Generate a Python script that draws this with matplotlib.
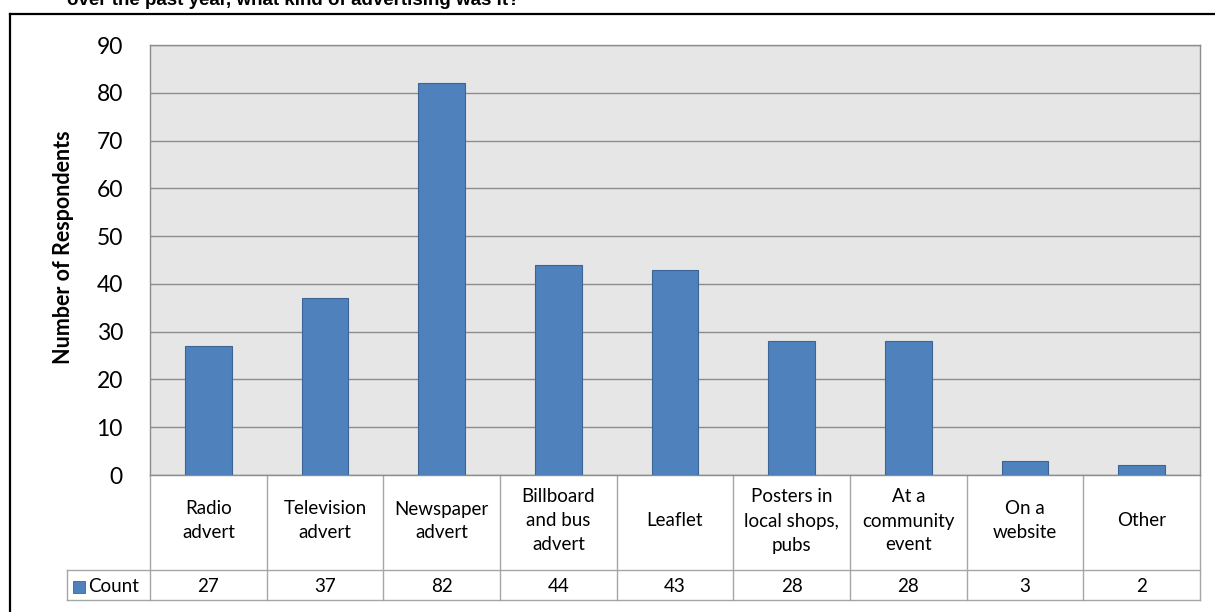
import matplotlib
matplotlib.use("Agg")
import matplotlib.pyplot as plt
from matplotlib.patches import Rectangle
from matplotlib.lines import Line2D
import matplotlib.transforms as mtransforms

categories = ["Radio\nadvert", "Television\nadvert", "Newspaper\nadvert",
              "Billboard\nand bus\nadvert", "Leaflet", "Posters in\nlocal shops,\npubs",
              "At a\ncommunity\nevent", "On a\nwebsite", "Other"]
counts = [27, 37, 82, 44, 43, 28, 28, 3, 2]
yticks = [0, 10, 20, 30, 40, 50, 60, 70, 80, 90]
series_name = "Count"
title = "over the past year, what kind of advertising was it?"
ylabel = "Number of Respondents"

W, H = 1215, 612
BAR = "#4f81bd"
BAR_EDGE = "#3b6597"
GRID = "#8c8c8c"
TABLE = "#a6a6a6"
FONT = "Lato"

fig = plt.figure(figsize=(W / 100, H / 100), dpi=100)

def fx(px):
    return px / W

def fy(py):
    return 1 - py / H

# plot area in pixel terms
L, R, T, B = 150, 1200, 45, 475
ax = fig.add_axes([fx(L), fy(B), fx(R - L), (B - T) / H])
ax.set_facecolor("#e6e6e6")

n = len(categories)
xs = list(range(n))
ax.bar(xs, counts, width=0.4, color=BAR, edgecolor=BAR_EDGE, linewidth=0.8, zorder=3)
ax.set_xlim(-0.5, n - 0.5)
ax.set_ylim(yticks[0], yticks[-1])
ax.set_yticks(yticks)
ax.set_yticklabels([str(v) for v in yticks], fontsize=16.5, family=FONT)
ax.tick_params(axis="y", length=0, pad=19.5)
ax.set_xticks([])
ax.grid(axis="y", color=GRID, linewidth=1.0, zorder=1)
for s in ax.spines.values():
    s.set_color(GRID)
    s.set_linewidth(1.0)

# axis title placed by its centre
fig.text(fx(64), fy(247), ylabel, rotation=90, ha="center", va="center",
         fontsize=15.5, family=FONT, fontweight="bold")

# data table under the bars
trans = mtransforms.blended_transform_factory(ax.transData, fig.transFigure)
row1 = fy(570)
row2 = fy(600)
top = fy(B)
for i in range(n + 1):
    xb = i - 0.5
    ax.add_line(Line2D([xb, xb], [top, row2], transform=trans, color=TABLE,
                       linewidth=1.0, clip_on=False))
for yy in (row1, row2):
    fig.add_artist(Line2D([fx(67), fx(R)], [yy, yy], color=TABLE, linewidth=1.0))
fig.add_artist(Line2D([fx(67), fx(67)], [row1, row2], color=TABLE, linewidth=1.0))

for i, (lab, v) in enumerate(zip(categories, counts)):
    ax.text(i, fy(521), lab, transform=trans, ha="center", va="center",
            fontsize=13.5, family=FONT, linespacing=1.5)
    ax.text(i, fy(587), str(v), transform=trans, ha="center", va="center",
            fontsize=13.5, family=FONT)

fig.add_artist(Rectangle((fx(73), fy(593)), fx(12), 12 / H, facecolor=BAR,
                         edgecolor=BAR_EDGE, linewidth=0.6))
fig.text(fx(88), fy(587), series_name, ha="left", va="center", fontsize=13.5, family=FONT)

# outer chart frame
fig.add_artist(Line2D([fx(10), fx(1215)], [fy(14), fy(14)], color="black", linewidth=1.6))
fig.add_artist(Line2D([fx(10), fx(10)], [fy(14), 0], color="black", linewidth=1.6))

# heading running off the top edge
fig.text(fx(67), fy(5), title, ha="left", va="baseline", fontsize=13.5,
         family="Liberation Sans", fontweight="bold")

fig.savefig("out.png", dpi=100)
